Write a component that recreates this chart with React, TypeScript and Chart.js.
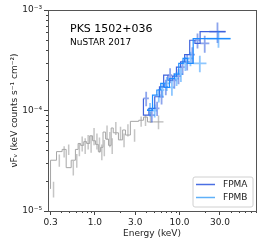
import React, { useEffect, useRef } from 'react';
import { Chart, registerables } from 'chart.js';

Chart.register(...registerables);

// ---- data ----
const greyEdges = [0.3, 0.353, 0.411, 0.459, 0.526, 0.59, 0.635, 0.68, 0.74, 0.8, 0.87, 0.94, 1.02, 1.1, 1.17, 1.25, 1.34, 1.45, 1.56, 1.65, 1.9, 2.13, 2.3, 2.63, 3.3, 3.76, 4.19, 4.93, 6.47];
const greyValues = [1.66e-5, 3.2e-5, 3.9e-5, 4.1e-5, 2.7e-5, 3.2e-5, 4.1e-5, 4.7e-5, 4.5e-5, 4.9e-5, 4.7e-5, 5.6e-5, 5.0e-5, 4.6e-5, 3.9e-5, 4.3e-5, 6.1e-5, 5.2e-5, 4.5e-5, 6.7e-5, 6.0e-5, 5.1e-5, 6.4e-5, 5.7e-5, 7.8e-5, 8.0e-5, 8.6e-5, 7.7e-5];
const greyErrors = [0.3e-5, 0.45e-5, 0.5e-5, 0.5e-5, 0.45e-5, 0.5e-5, 0.6e-5, 0.8e-5, 0.8e-5, 0.8e-5, 0.9e-5, 1.1e-5, 0.9e-5, 0.8e-5, 0.7e-5, 0.8e-5, 1.0e-5, 0.9e-5, 0.8e-5, 1.0e-5, 0.9e-5, 0.8e-5, 0.9e-5, 0.8e-5, 0.9e-5, 1.0e-5, 1.1e-5, 1.2e-5];

const fpmaEdges = [3.75, 4.35, 5.1, 5.8, 6.5, 7.3, 8.2, 9.2, 10.3, 11.5, 13.2, 15.2, 17.5, 22.5, 35];
const fpmaValues = [1.32e-4, 0.9e-4, 1.05e-4, 1.37e-4, 1.72e-4, 2.25e-4, 2.0e-4, 2.2e-4, 2.7e-4, 3.05e-4, 3.6e-4, 5.0e-4, 4.65e-4, 6.1e-4];
const fpmaErrors = [0.22e-4, 0.14e-4, 0.17e-4, 0.22e-4, 0.3e-4, 0.38e-4, 0.35e-4, 0.38e-4, 0.45e-4, 0.55e-4, 0.65e-4, 0.85e-4, 0.9e-4, 1.4e-4];

const fpmbEdges = [4.2, 4.8, 5.4, 6.0, 6.6, 7.6, 8.7, 9.8, 11.0, 12.5, 14.5, 20.8, 40];
const fpmbValues = [1.03e-4, 1.0e-4, 1.42e-4, 1.6e-4, 1.86e-4, 1.7e-4, 2.08e-4, 2.3e-4, 2.95e-4, 3.3e-4, 2.95e-4, 5.2e-4];
const fpmbErrors = [0.16e-4, 0.15e-4, 0.22e-4, 0.25e-4, 0.3e-4, 0.3e-4, 0.33e-4, 0.38e-4, 0.48e-4, 0.55e-4, 0.55e-4, 1.0e-4];

const seriesLabels = ['FPMA', 'FPMB'];
const xTickValues = [0.3, 1, 3, 10, 30];
const xTickLabels = ['0.3', '1.0', '3.0', '10.0', '30.0'];
const yTickValues = [1e-5, 1e-4, 1e-3];
const yTickLabels = ['10⁻⁵', '10⁻⁴', '10⁻³'];
const xRange = [0.28, 80];
const yRange = [1e-5, 1e-3];
const titleText = 'PKS 1502+036';
const subtitleText = 'NuSTAR 2017';
const xTitle = 'Energy (keV)';
const yTitle = 'νFᵥ (keV counts s⁻¹ cm⁻²)';

// ---- styles ----
const FONT = 'DejaVu Sans';
const GREY_STEP = '#a6a6a6';
const GREY_ERR = 'rgba(150,150,150,0.55)';
const A_STEP = '#3f62dc';
const A_ERR = 'rgba(65,105,225,0.6)';
const B_STEP = '#1e8cff';
const B_ERR = 'rgba(30,144,255,0.5)';
const A_LEG = '#4a6fe3';
const B_LEG = '#5fb0f8';

function stepPoints(edges: number[], values: number[]) {
  const pts: any[] = values.map((v, i) => ({ x: edges[i], y: v }));
  pts.push({ x: edges[edges.length - 1], y: values[values.length - 1] });
  return pts;
}

function errPoints(edges: number[], values: number[], errors: number[], withX: boolean) {
  const pts: any[] = [];
  values.forEach((v, i) => {
    const c = Math.sqrt(edges[i] * edges[i + 1]);
    pts.push({ x: c, y: Math.max(v - errors[i], 1e-7) }, { x: c, y: v + errors[i] }, { x: c, y: null });
    if (withX) {
      pts.push({ x: edges[i], y: v }, { x: edges[i + 1], y: v }, { x: c, y: null });
    }
  });
  return pts;
}

const decorPlugin = {
  id: 'decor',
  afterDraw(chart: any) {
    const { ctx, chartArea: a, scales } = chart;
    const xs = scales.x;
    const ys = scales.y;
    ctx.save();
    // minor ticks
    ctx.strokeStyle = '#444';
    ctx.lineWidth = 1;
    ctx.beginPath();
    for (let e = -1; e <= 1; e++) {
      for (let k = 1; k <= 9; k++) {
        const v = k * Math.pow(10, e);
        if (v < xRange[0] || v > xRange[1]) continue;
        if (xTickValues.some((t) => Math.abs(t - v) / t < 1e-6)) continue;
        const px = Math.round(xs.getPixelForValue(v)) + 0.5;
        ctx.moveTo(px, a.bottom);
        ctx.lineTo(px, a.bottom + 2);
      }
    }
    for (let e = -5; e <= -4; e++) {
      for (let k = 2; k <= 9; k++) {
        const v = k * Math.pow(10, e);
        const py = Math.round(ys.getPixelForValue(v)) + 0.5;
        ctx.moveTo(a.left, py);
        ctx.lineTo(a.left - 2, py);
      }
    }
    ctx.stroke();
    // frame
    ctx.strokeStyle = '#555';
    ctx.lineWidth = 1;
    ctx.strokeRect(Math.round(a.left) + 0.5, Math.round(a.top) + 0.5, Math.round(a.right - a.left), Math.round(a.bottom - a.top));
    // title texts
    ctx.fillStyle = '#000';
    ctx.textAlign = 'left';
    ctx.textBaseline = 'alphabetic';
    ctx.font = `11px "${FONT}"`;
    ctx.fillText(titleText, 70, 32);
    ctx.font = `9px "${FONT}"`;
    ctx.fillText(subtitleText, 70, 45);
    // legend
    const lx = 193, ly = 177, lw = 60, lh = 30, r = 2;
    ctx.beginPath();
    ctx.moveTo(lx + r, ly);
    ctx.lineTo(lx + lw - r, ly);
    ctx.quadraticCurveTo(lx + lw, ly, lx + lw, ly + r);
    ctx.lineTo(lx + lw, ly + lh - r);
    ctx.quadraticCurveTo(lx + lw, ly + lh, lx + lw - r, ly + lh);
    ctx.lineTo(lx + r, ly + lh);
    ctx.quadraticCurveTo(lx, ly + lh, lx, ly + lh - r);
    ctx.lineTo(lx, ly + r);
    ctx.quadraticCurveTo(lx, ly, lx + r, ly);
    ctx.closePath();
    ctx.fillStyle = 'rgba(255,255,255,0.85)';
    ctx.fill();
    ctx.strokeStyle = '#d0d0d0';
    ctx.lineWidth = 1;
    ctx.stroke();
    const legColors = [A_LEG, B_LEG];
    seriesLabels.forEach((lab, i) => {
      const y = 184.5 + i * 13;
      ctx.strokeStyle = legColors[i];
      ctx.lineWidth = 1.5;
      ctx.beginPath();
      ctx.moveTo(196, y);
      ctx.lineTo(215, y);
      ctx.stroke();
      ctx.fillStyle = '#222';
      ctx.font = `9px "${FONT}"`;
      ctx.textBaseline = 'middle';
      ctx.fillText(lab, 223, y + 0.5);
    });
    ctx.restore();
  },
};

export default function App() {
  const ref = useRef<HTMLCanvasElement | null>(null);
  useEffect(() => {
    if (!ref.current) return;
    const chart = new Chart(ref.current, {
      type: 'line',
      data: {
        datasets: [
          { label: 'grey-err', data: errPoints(greyEdges, greyValues, greyErrors, false), borderColor: GREY_ERR, borderWidth: 1.5, pointRadius: 0, spanGaps: false, order: 6 } as any,
          { label: 'grey', data: stepPoints(greyEdges, greyValues), borderColor: GREY_STEP, borderWidth: 1, pointRadius: 0, stepped: 'after', order: 5 } as any,
          { label: 'FPMA-err', data: errPoints(fpmaEdges, fpmaValues, fpmaErrors, true), borderColor: A_ERR, borderWidth: 1.8, pointRadius: 0, spanGaps: false, order: 4 } as any,
          { label: seriesLabels[0], data: stepPoints(fpmaEdges, fpmaValues), borderColor: A_STEP, borderWidth: 1.2, pointRadius: 0, stepped: 'after', order: 3 } as any,
          { label: 'FPMB-err', data: errPoints(fpmbEdges, fpmbValues, fpmbErrors, true), borderColor: B_ERR, borderWidth: 1.8, pointRadius: 0, spanGaps: false, order: 2 } as any,
          { label: seriesLabels[1], data: stepPoints(fpmbEdges, fpmbValues), borderColor: B_STEP, borderWidth: 1.2, pointRadius: 0, stepped: 'after', order: 1 } as any,
        ],
      },
      options: {
        animation: false,
        responsive: true,
        maintainAspectRatio: false,
        layout: { padding: { top: 10, right: 10, left: 0, bottom: 0 } },
        plugins: { legend: { display: false }, tooltip: { enabled: false } },
        elements: { line: { tension: 0 } },
        scales: {
          x: {
            type: 'logarithmic',
            min: xRange[0],
            max: xRange[1],
            afterBuildTicks: (s: any) => { s.ticks = xTickValues.map((v) => ({ value: v })); },
            afterFit: (s: any) => { s.height = 35; },
            ticks: {
              autoSkip: false,
              maxRotation: 0,
              padding: 2,
              color: '#222',
              font: { family: FONT, size: 9 },
              callback: (_v: any, i: number) => xTickLabels[i],
            },
            grid: { display: true, drawOnChartArea: false, drawTicks: true, tickLength: 4, tickColor: '#444', tickWidth: 1 },
            border: { display: false },
            title: { display: true, text: xTitle, color: '#222', font: { family: FONT, size: 9 }, padding: { top: 0, bottom: 7 } },
          },
          y: {
            type: 'logarithmic',
            min: yRange[0],
            max: yRange[1],
            afterBuildTicks: (s: any) => { s.ticks = yTickValues.map((v) => ({ value: v })); },
            afterFit: (s: any) => { s.width = 48; },
            ticks: {
              autoSkip: false,
              padding: 2,
              color: '#222',
              font: { family: FONT, size: 9 },
              callback: (_v: any, i: number) => yTickLabels[i],
            },
            grid: { display: true, drawOnChartArea: false, drawTicks: true, tickLength: 4, tickColor: '#444', tickWidth: 1 },
            border: { display: false },
            title: { display: true, text: yTitle, color: '#222', font: { family: FONT, size: 9 }, padding: { top: 9, bottom: 0 } },
          },
        },
      } as any,
      plugins: [decorPlugin],
    });
    return () => chart.destroy();
  }, []);
  return (
    <div style={{ position: 'fixed', left: 0, top: 0, width: 266, height: 246, background: '#fff' }}>
      <canvas ref={ref} />
    </div>
  );
}
